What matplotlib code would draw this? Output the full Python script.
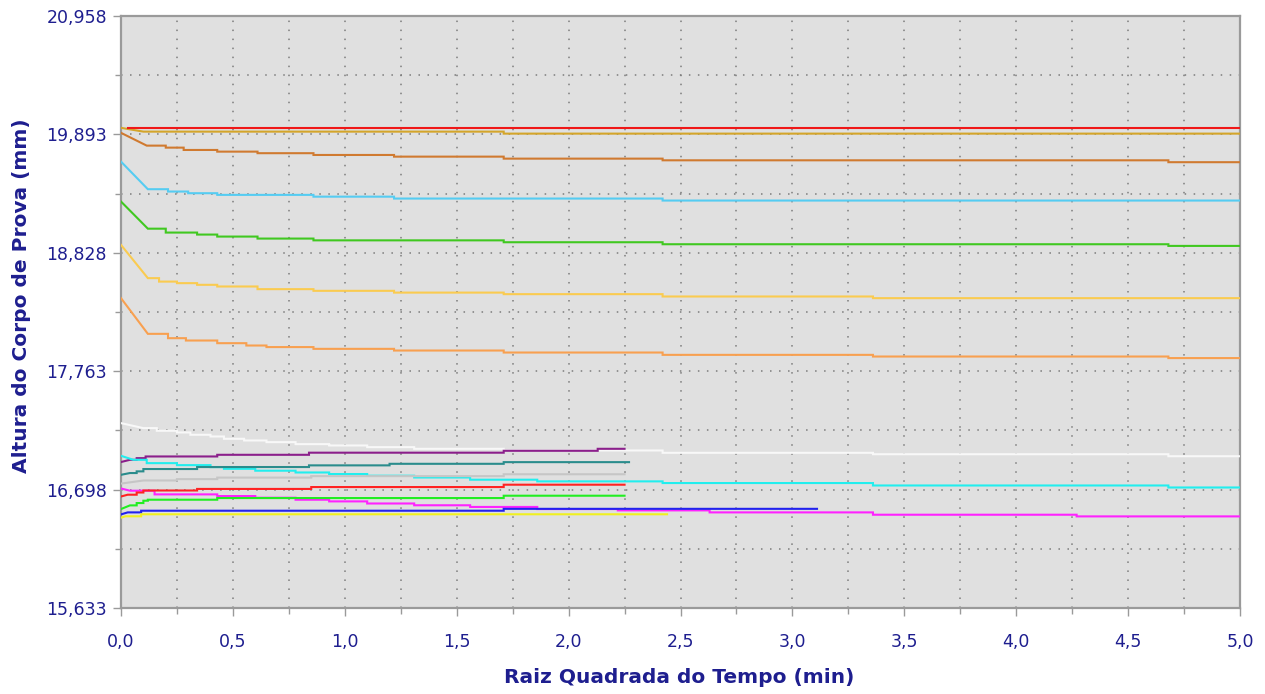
import matplotlib
matplotlib.use("Agg")
import matplotlib.pyplot as plt
from matplotlib.ticker import FixedLocator, MultipleLocator, FuncFormatter

# ---- Consolidation readings: sqrt(time) [min^0.5] and specimen height [mm] ----
# Each test: breakpoints in sqrt(time) and the height held from that point on.
t_red_top = [0.03, 5.0]
h_red_top = [19.948, 19.948]

t_gold = [0.0, 0.10, 1.71, 5.0]
h_gold = [19.952, 19.918, 19.900, 19.900]

t_brown = [0.0, 0.115, 0.20, 0.28, 0.43, 0.61, 0.86, 1.22, 1.71, 2.42, 4.68, 5.0]
h_brown = [19.907, 19.792, 19.774, 19.753, 19.738, 19.724, 19.708, 19.693, 19.675, 19.660, 19.643, 19.643]

t_sky = [0.0, 0.12, 0.21, 0.30, 0.43, 0.86, 1.22, 2.42, 5.0]
h_sky = [19.648, 19.400, 19.379, 19.364, 19.349, 19.333, 19.316, 19.298, 19.298]

t_leaf = [0.0, 0.12, 0.20, 0.34, 0.43, 0.61, 0.86, 1.71, 2.42, 4.68, 5.0]
h_leaf = [19.289, 19.045, 19.010, 18.992, 18.974, 18.956, 18.940, 18.923, 18.905, 18.890, 18.890]

t_amber = [0.0, 0.12, 0.17, 0.25, 0.34, 0.43, 0.61, 0.86, 1.22, 1.71, 2.42, 3.36, 5.0]
h_amber = [18.899, 18.600, 18.569, 18.555, 18.540, 18.525, 18.501, 18.486, 18.470, 18.456, 18.435, 18.420, 18.420]

t_orange = [0.0, 0.12, 0.21, 0.29, 0.43, 0.56, 0.65, 0.86, 1.22, 1.71, 2.42, 3.36, 4.68, 5.0]
h_orange = [18.420, 18.099, 18.060, 18.039, 18.015, 17.994, 17.980, 17.964, 17.949, 17.931, 17.910, 17.895, 17.881, 17.881]

t_white = [0.0, 0.10, 0.16, 0.25, 0.31, 0.40, 0.46, 0.55, 0.65, 0.78, 0.93, 1.10, 1.31, 1.71, 2.42, 3.36, 4.68, 5.0]
h_white = [17.296, 17.251, 17.227, 17.212, 17.191, 17.176, 17.155, 17.140, 17.125, 17.107, 17.095, 17.080, 17.065, 17.050, 17.029, 17.016, 16.998, 16.998]

t_purple = [0.0, 0.04, 0.07, 0.11, 0.43, 0.84, 1.71, 2.13, 2.25]
h_purple = [16.946, 16.966, 16.981, 16.996, 17.011, 17.030, 17.047, 17.065, 17.065]

t_cyan = [0.0, 0.055, 0.115, 0.25, 0.40, 0.46, 0.60, 0.78, 0.93, 1.10, 1.31, 1.56, 1.86, 2.42, 3.36, 4.68, 5.0]
h_cyan = [17.002, 16.966, 16.936, 16.918, 16.900, 16.885, 16.868, 16.852, 16.838, 16.823, 16.807, 16.787, 16.772, 16.757, 16.735, 16.717, 16.717]

t_teal = [0.0, 0.04, 0.07, 0.10, 0.34, 0.84, 1.20, 1.71, 2.27]
h_teal = [16.831, 16.847, 16.862, 16.883, 16.901, 16.916, 16.930, 16.945, 16.945]

t_silver = [0.0, 0.10, 0.25, 0.43, 0.85, 1.71, 2.25]
h_silver = [16.752, 16.780, 16.792, 16.806, 16.819, 16.836, 16.836]

t_magenta = [0.0, 0.04, 0.15, 0.43, 0.60, 0.78, 0.93, 1.10, 1.31, 1.56, 1.86, 2.22, 2.63, 3.36, 4.27, 5.0]
h_magenta = [16.708, 16.688, 16.655, 16.640, 16.625, 16.607, 16.592, 16.573, 16.557, 16.542, 16.523, 16.511, 16.493, 16.472, 16.457, 16.457]

t_red_low = [0.0, 0.03, 0.07, 0.10, 0.34, 0.85, 1.71, 2.25]
h_red_low = [16.636, 16.652, 16.672, 16.690, 16.704, 16.721, 16.742, 16.742]

t_lime = [0.0, 0.04, 0.07, 0.10, 0.12, 0.43, 1.71, 2.25]
h_lime = [16.523, 16.556, 16.577, 16.598, 16.607, 16.622, 16.643, 16.643]

t_blue = [0.0, 0.03, 0.09, 1.71, 3.11]
h_blue = [16.475, 16.493, 16.508, 16.525, 16.525]

t_yellow = [0.0, 0.02, 0.09, 2.44]
h_yellow = [16.445, 16.458, 16.476, 16.476]

y_tick_values = [15.633, 16.698, 17.763, 18.828, 19.893, 20.958]
x_tick_values = [0.0, 0.5, 1.0, 1.5, 2.0, 2.5, 3.0, 3.5, 4.0, 4.5, 5.0]

x_label = "Raiz Quadrada do Tempo (min)"
y_label = "Altura do Corpo de Prova (mm)"

NAVY = "#1E1E8F"
FRAME = "#9A9A9A"


def reading_path(t, h):
    """Straight segment to the first reading, then hold each height until the next change."""
    xs, ys = [t[0], t[1]], [h[0], h[1]]
    for i in range(2, len(t)):
        xs += [t[i], t[i]]
        ys += [h[i - 1], h[i]]
    return xs, ys


fig = plt.figure(figsize=(12.65, 6.94), dpi=100)
ax = fig.add_axes([121 / 1265, 1 - 608 / 694, 1119 / 1265, 592 / 694])
ax.set_facecolor("#E0E0E0")

curves = [
    (t_white, h_white, "#F8F8F8"),
    (t_purple, h_purple, "#8B1F8B"),
    (t_cyan, h_cyan, "#22EEEE"),
    (t_teal, h_teal, "#2A8C8C"),
    (t_silver, h_silver, "#C6C6C6"),
    (t_magenta, h_magenta, "#FF22FF"),
    (t_red_low, h_red_low, "#FF2222"),
    (t_lime, h_lime, "#22EE22"),
    (t_blue, h_blue, "#2222EE"),
    (t_yellow, h_yellow, "#F0F020"),
    (t_orange, h_orange, "#F8A050"),
    (t_amber, h_amber, "#FACB50"),
    (t_leaf, h_leaf, "#40C820"),
    (t_sky, h_sky, "#55CCF2"),
    (t_brown, h_brown, "#D07A30"),
    (t_gold, h_gold, "#D4A52A"),
    (t_red_top, h_red_top, "#F01818"),
]
for t, h, c in curves:
    xs, ys = reading_path(t, h)
    ax.plot(xs, ys, color=c, lw=1.5, solid_joinstyle="miter", zorder=3)

ax.set_xlim(x_tick_values[0], x_tick_values[-1])
ax.set_ylim(y_tick_values[0], y_tick_values[-1])

ax.xaxis.set_major_locator(FixedLocator(x_tick_values))
ax.xaxis.set_minor_locator(MultipleLocator(0.25))
y_minor = [(a + b) / 2 for a, b in zip(y_tick_values[:-1], y_tick_values[1:])]
ax.yaxis.set_major_locator(FixedLocator(y_tick_values))
ax.yaxis.set_minor_locator(FixedLocator(y_minor))

ax.xaxis.set_major_formatter(FuncFormatter(lambda v, p: f"{v:.1f}".replace(".", ",")))
ax.yaxis.set_major_formatter(FuncFormatter(lambda v, p: f"{v:.3f}".replace(".", ",")))

ax.grid(True, which="both", color="#7C7C7C", linestyle=(0, (1, 4.9)), linewidth=1.1, zorder=1)
ax.set_axisbelow(True)

for s in ax.spines.values():
    s.set_color(FRAME)
    s.set_linewidth(1.6)

ax.tick_params(which="major", length=6, width=1, color=FRAME, labelcolor=NAVY, labelsize=12.5)
ax.tick_params(axis="x", which="major", pad=12)
ax.tick_params(axis="y", which="major", pad=4)
ax.tick_params(which="minor", length=4, width=1, color=FRAME)

ax.set_xlabel(x_label, fontsize=14.5, fontweight="bold", color=NAVY)
ax.set_ylabel(y_label, fontsize=14.5, fontweight="bold", color=NAVY)
ax.xaxis.set_label_coords(0.499, -0.101)
ax.yaxis.set_label_coords(-0.080, 0.527)

fig.savefig("out.png", dpi=100, facecolor="white")
